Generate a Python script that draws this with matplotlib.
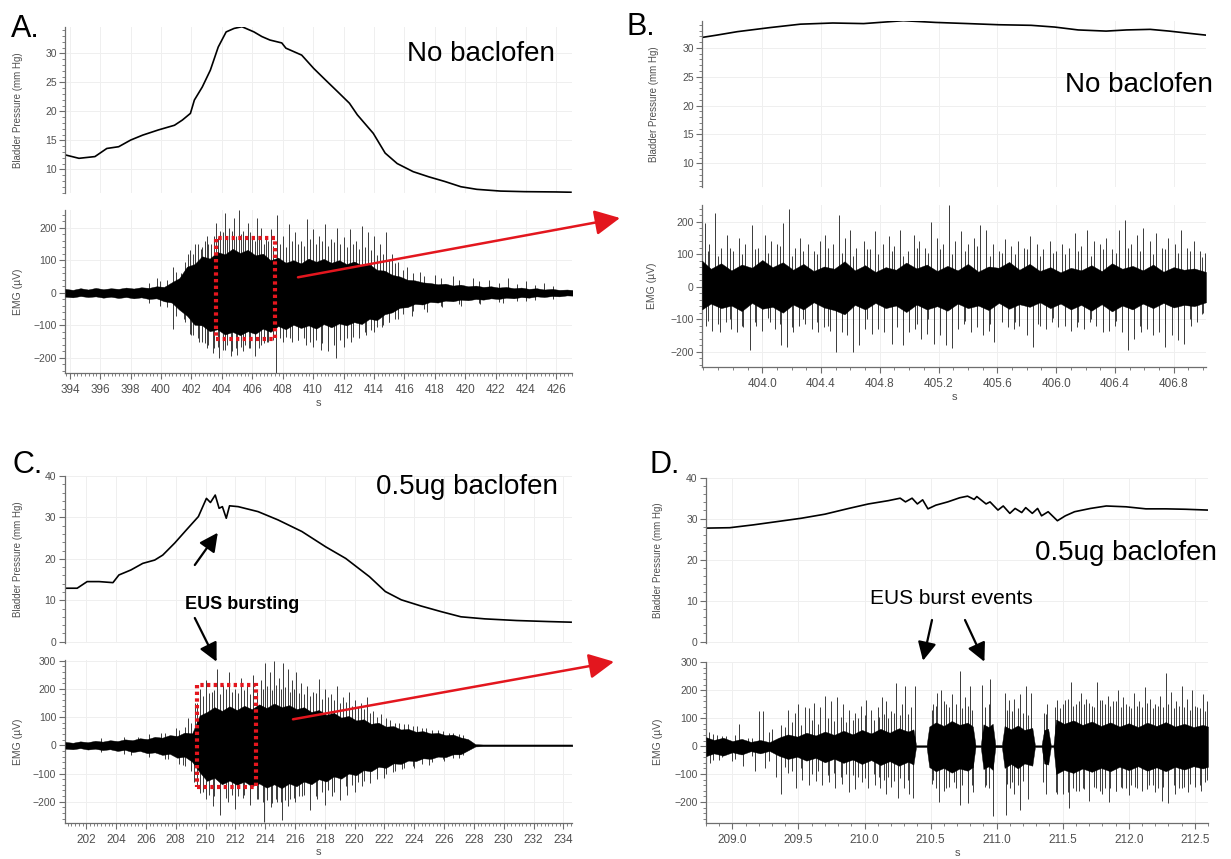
import matplotlib
matplotlib.use('Agg')
import matplotlib.pyplot as plt
from matplotlib.patches import Rectangle, FancyArrowPatch
from matplotlib.ticker import MultipleLocator, FixedLocator, FormatStrFormatter

# ---------------- data: bladder pressure (mm Hg) ----------------
A_t = [393.68, 394.60, 395.65, 396.43, 397.21, 398.00, 398.79, 399.83, 400.88, 401.40,
       401.93, 402.19, 402.71, 403.24, 403.76, 404.28, 404.80, 405.32, 406.11, 406.63,
       407.16, 407.94, 408.21, 409.25, 410.04, 410.82, 411.61, 412.39, 412.91, 413.96,
       414.74, 415.53, 416.58, 417.62, 418.67, 419.72, 420.77, 422.33, 423.90, 425.99, 426.96]
A_p = [12.5, 11.9, 12.2, 13.6, 13.9, 15.05, 15.9, 16.8, 17.6, 18.5,
       19.65, 21.95, 24.2, 27.1, 31.1, 33.7, 34.3, 34.6, 33.7, 32.9,
       32.3, 31.8, 30.9, 29.7, 27.4, 25.4, 23.4, 21.4, 19.4, 16.2,
       12.8, 11.0, 9.6, 8.7, 7.9, 7.0, 6.55, 6.25, 6.15, 6.1, 6.05]

B_t = [403.59, 403.69, 403.83, 404.05, 404.26, 404.48, 404.69, 404.96, 405.18, 405.40,
       405.61, 405.83, 405.99, 406.15, 406.34, 406.48, 406.64, 406.77, 406.91, 407.02]
B_p = [31.8, 32.2, 32.8, 33.5, 34.1, 34.3, 34.2, 34.7, 34.4, 34.2,
       34.0, 33.9, 33.6, 33.1, 32.9, 33.1, 33.2, 32.9, 32.5, 32.2]

C_t = [200.59, 201.39, 202.06, 202.86, 203.79, 204.19, 204.99, 205.79, 206.59, 207.13,
       207.93, 208.72, 209.52, 210.06, 210.33, 210.65, 210.91, 211.13, 211.39, 211.61,
       212.19, 213.52, 214.86, 216.46, 218.06, 219.40, 220.99, 222.06, 223.13, 224.46,
       225.80, 227.13, 228.73, 230.87, 233.00, 234.52]
C_p = [12.9, 12.9, 14.5, 14.5, 14.25, 16.1, 17.3, 18.9, 19.7, 20.9,
       23.8, 27.0, 30.2, 34.6, 33.6, 35.4, 32.2, 32.6, 29.8, 32.8,
       32.6, 31.4, 29.4, 26.6, 22.9, 20.1, 15.7, 12.1, 10.1, 8.6,
       7.25, 6.0, 5.5, 5.1, 4.85, 4.7]

D_t = [208.80, 208.98, 209.16, 209.34, 209.52, 209.70, 209.88, 210.03, 210.18, 210.27,
       210.31, 210.36, 210.40, 210.44, 210.48, 210.54, 210.63, 210.72, 210.78, 210.83,
       210.85, 210.92, 210.95, 211.01, 211.05, 211.10, 211.14, 211.19, 211.22, 211.27,
       211.31, 211.34, 211.39, 211.46, 211.52, 211.59, 211.71, 211.83, 211.98, 212.13,
       212.28, 212.43, 212.60]
D_p = [27.7, 27.8, 28.5, 29.3, 30.1, 31.1, 32.5, 33.6, 34.4, 35.0,
       34.1, 35.0, 33.6, 34.6, 32.4, 33.3, 34.1, 35.1, 35.5, 34.7,
       35.4, 33.6, 34.1, 32.1, 33.1, 31.3, 32.5, 31.5, 32.7, 31.3,
       32.5, 30.7, 31.7, 29.5, 30.7, 31.7, 32.5, 33.1, 32.9, 32.4,
       32.4, 32.3, 32.1]

# ---------------- data: EMG (uV) dense-core envelope ----------------
A_env_t = [393.7, 394.2, 394.7, 395.2, 395.7, 396.2, 396.7, 397.2, 397.7, 398.2, 398.7, 399.2, 399.7,
           400.2, 400.7, 401.2, 401.7, 402.2, 402.7, 403.2, 403.7, 404.2, 404.7, 405.2, 405.7, 406.2,
           406.7, 407.2, 407.7, 408.2, 408.7, 409.2, 409.7,
           410.2, 410.7, 411.2, 411.7, 412.2, 412.7, 413.2, 413.7, 414.2, 414.7, 415.2, 415.7, 416.2,
           416.7, 417.2, 417.7, 418.2, 418.7, 419.2, 419.7,
           420.2, 420.7, 421.2, 421.7, 422.2, 422.7, 423.2, 423.7, 424.2, 424.7, 425.2, 425.7, 426.2,
           426.7, 427.2]
A_env_hi = [12, 9, 14, 10, 15, 11, 14, 12, 16, 13, 17, 15, 20,
            18, 32, 45, 80, 88, 112, 105, 125, 118, 135, 122, 132, 115, 120, 100, 108, 92, 100, 90, 105,
            95, 104, 92, 100, 88, 96, 84, 88, 70, 68, 55, 50, 40, 38, 32, 30, 26, 28, 22, 25,
            20, 22, 18, 20, 16, 18, 14, 16, 12, 14, 10, 12, 9, 10,
            8]
A_env_lo = [-12, -14, -10, -13, -11, -15, -12, -16, -13, -17, -14, -19, -17,
            -26, -30, -52, -70, -98, -100, -118, -112, -128, -120, -130, -118, -126, -110, -120, -102, -112,
            -98, -108, -100,
            -110, -96, -106, -94, -100, -90, -96, -80, -84, -66, -60, -46, -44, -34, -36, -28, -30, -24, -26,
            -21,
            -23, -19, -21, -17, -19, -15, -17, -13, -15, -11, -13, -10, -11, -8,
            -9]

B_env_t = [403.59, 403.65, 403.72, 403.79, 403.86, 403.93, 404.00, 404.07, 404.14, 404.21,
           404.28, 404.35, 404.42, 404.49, 404.56, 404.63, 404.70, 404.77, 404.84, 404.91,
           404.98, 405.05, 405.12, 405.19, 405.26, 405.33, 405.40, 405.47, 405.54, 405.61,
           405.68, 405.75, 405.82, 405.89, 405.96, 406.03, 406.10, 406.17, 406.24, 406.31,
           406.38, 406.45, 406.52, 406.59, 406.66, 406.73, 406.80, 406.87, 406.94, 407.02]
B_env_hi = [80, 55, 72, 50, 68, 58, 82, 60, 75, 52,
            70, 48, 62, 55, 78, 50, 66, 45, 60, 52,
            74, 56, 68, 48, 64, 50, 70, 46, 62, 58,
            76, 52, 70, 48, 60, 44, 58, 50, 66, 48,
            72, 55, 64, 50, 68, 46, 60, 52, 56, 45]
B_env_lo = [-70, -52, -66, -58, -75, -50, -68, -62, -80, -55,
            -70, -48, -64, -72, -85, -56, -70, -50, -66, -58,
            -78, -55, -70, -60, -74, -52, -66, -58, -72, -50,
            -68, -54, -62, -48, -66, -52, -70, -56, -74, -54,
            -76, -58, -70, -52, -66, -50, -64, -56, -60, -48]

C_env_t = [200.6, 201.1, 201.6, 202.1, 202.6, 203.1, 203.6, 204.1, 204.6, 205.1, 205.6, 206.1, 206.6,
           207.1, 207.6, 208.1, 208.6, 209.1, 209.6,
           210.1, 210.6, 211.1, 211.6, 212.1, 212.6, 213.1, 213.6, 214.1, 214.6, 215.1, 215.6, 216.1,
           216.6, 217.1, 217.6, 218.1, 218.6, 219.1, 219.6,
           220.1, 220.6, 221.1, 221.6, 222.1, 222.6, 223.1, 223.6, 224.1, 224.6, 225.1, 225.6, 226.1,
           226.6, 227.1, 227.6,
           228.1,
           228.6, 229.1, 229.6, 230.1, 230.6, 231.1, 231.6, 232.1, 232.6, 233.1, 233.6, 234.1, 234.6]
C_env_hi = [12, 9, 14, 11, 16, 13, 18, 15, 21, 18, 25, 22, 30, 27, 36, 33, 45, 42, 105,
            118, 135, 122, 138, 125, 140, 128, 145, 132, 148, 135, 142, 128, 135, 118, 125, 108, 115, 98,
            104,
            88, 92, 76, 80, 66, 68, 56, 58, 48, 50, 42, 44, 36, 38, 28, 22,
            4,
            3, 3, 3, 3, 3, 3, 3, 3, 3, 3, 3, 3, 3]
C_env_lo = [-12, -14, -10, -15, -12, -17, -14, -20, -16, -24, -20, -28, -25, -34, -30, -44, -40, -58, -95,
            -126, -115, -138, -125, -140, -128, -145, -135, -150, -138, -152, -135, -145, -128, -138, -120,
            -128, -110, -118, -100,
            -106, -88, -92, -76, -80, -64, -66, -54, -56, -46, -48, -40, -42, -32, -32, -18,
            -4,
            -3, -3, -3, -3, -3, -3, -3, -3, -3, -3, -3, -3, -3]

D_env_t = [208.80, 208.86, 208.93, 209.00, 209.07, 209.14, 209.21, 209.28, 209.35, 209.42,
           209.49, 209.56, 209.63, 209.70, 209.77, 209.84, 209.91, 209.98, 210.05, 210.12,
           210.19, 210.26, 210.33, 210.37, 210.39, 210.47, 210.49, 210.54, 210.60, 210.66,
           210.72, 210.78, 210.82, 210.84, 210.88, 210.90, 210.94, 210.97, 210.99, 211.04,
           211.06, 211.11, 211.16, 211.21, 211.27, 211.29, 211.34, 211.36, 211.39, 211.41,
           211.43, 211.45, 211.51, 211.58, 211.65, 211.72, 211.79, 211.86, 211.93, 212.00,
           212.07, 212.14, 212.21, 212.28, 212.35, 212.42, 212.49, 212.56, 212.60]
D_env_hi = [32, 22, 30, 18, 26, 15, 22, 14, 30, 42,
            34, 48, 38, 52, 40, 55, 42, 58, 45, 62,
            48, 64, 52, 60, 3, 3, 70, 85, 72, 90,
            76, 84, 70, 3, 3, 78, 68, 80, 4, 4,
            72, 60, 74, 58, 65, 3, 3, 58, 62, 3,
            3, 95, 80, 92, 76, 88, 72, 85, 70, 82,
            68, 84, 72, 86, 70, 80, 68, 76, 70]
D_env_lo = [-36, -26, -34, -22, -30, -18, -26, -17, -34, -46,
            -38, -52, -42, -58, -45, -60, -48, -64, -50, -68,
            -54, -70, -56, -66, -3, -3, -75, -90, -78, -95,
            -80, -88, -75, -3, -3, -82, -72, -85, -4, -4,
            -78, -64, -80, -62, -70, -3, -3, -62, -66, -3,
            -3, -100, -85, -96, -80, -92, -78, -90, -74, -86,
            -72, -88, -76, -90, -74, -84, -72, -80, -74]

# ---------------- data: EMG tall individual spikes ----------------
A_sp_t = [399.7, 400.8, 401.3, 401.8, 402.2, 402.6, 403.0, 403.3, 403.6, 403.9, 404.2, 404.5, 404.8,
          405.1, 405.4, 405.7, 406.0, 406.3, 406.6, 406.9, 407.2, 407.6, 408.0, 408.4, 408.8, 409.2,
          409.6, 410.0, 410.4, 410.8, 411.2, 411.6, 412.0, 412.4, 412.8, 413.2, 413.6, 414.0, 414.4,
          414.8, 415.2, 415.6, 416.2, 417.0, 418.0, 419.2, 420.5, 421.6, 422.8, 424.0, 425.2]
A_sp_v = [45, 80, 60, 120, 150, 135, 175, 150, 215, 190, 245, 200, 230,
          255, 190, 215, 175, 230, 200, 170, 195, 240, 175, 210, 185, 160,
          225, 195, 175, 210, 165, 200, 170, 195, 160, 205, 185, 175, 150,
          185, 120, 95, 80, 65, 55, 50, 45, 40, 45, 35, 30]
A_sn_t = [400.8, 401.5, 402.0, 402.5, 403.0, 403.4, 403.8, 404.2, 404.6, 405.0, 405.4, 405.8, 406.2,
          406.6, 407.0, 407.55, 408.0, 408.5, 409.0, 409.5, 410.0, 410.5, 411.0, 411.5, 412.0, 412.5,
          413.0, 413.5, 414.0, 414.5, 415.0, 415.6, 416.5, 417.5, 418.5, 419.7, 421.0, 422.5, 424.0]
A_sn_v = [-110, -80, -130, -150, -170, -185, -200, -175, -195, -190, -180, -170, -195,
          -160, -150, -245, -150, -140, -145, -160, -165, -175, -180, -200, -165, -150,
          -140, -130, -120, -105, -90, -80, -70, -60, -45, -40, -35, -30, -25]

B_sp_t = [403.61, 403.64, 403.68, 403.72, 403.76, 403.80, 403.84, 403.88, 403.93, 403.97,
          404.02, 404.06, 404.10, 404.14, 404.18, 404.22, 404.26, 404.31, 404.35, 404.39,
          404.43, 404.48, 404.52, 404.56, 404.60, 404.64, 404.69, 404.73, 404.77, 404.82,
          404.86, 404.90, 404.94, 404.99, 405.03, 405.07, 405.11, 405.15, 405.19, 405.23,
          405.27, 405.31, 405.35, 405.40, 405.44, 405.48, 405.52, 405.57, 405.61, 405.65,
          405.69, 405.74, 405.78, 405.82, 405.87, 405.91, 405.96, 406.00, 406.04, 406.09,
          406.13, 406.17, 406.21, 406.26, 406.30, 406.34, 406.38, 406.43, 406.47, 406.51,
          406.55, 406.59, 406.64, 406.68, 406.72, 406.76, 406.81, 406.85, 406.89, 406.94,
          406.98, 407.01]
B_sp_v = [195, 130, 225, 120, 160, 110, 150, 130, 190, 120,
          160, 140, 130, 195, 240, 120, 150, 130, 110, 140,
          160, 130, 220, 150, 175, 120, 140, 115, 170, 130,
          155, 125, 175, 110, 160, 140, 120, 200, 150, 130,
          250, 140, 170, 130, 150, 190, 175, 130, 110, 145,
          125, 140, 120, 155, 130, 115, 140, 110, 130, 120,
          165, 125, 175, 140, 130, 150, 115, 175, 205, 130,
          160, 180, 140, 165, 120, 150, 130, 175, 120, 140,
          110, 105]
B_sn_t = [403.62, 403.66, 403.71, 403.75, 403.79, 403.83, 403.87, 403.92, 403.96, 404.00,
          404.05, 404.09, 404.13, 404.17, 404.21, 404.25, 404.29, 404.34, 404.38, 404.42,
          404.46, 404.50, 404.54, 404.58, 404.62, 404.66, 404.70, 404.75, 404.79, 404.83,
          404.88, 404.92, 404.96, 405.00, 405.04, 405.08, 405.12, 405.17, 405.21, 405.25,
          405.29, 405.33, 405.37, 405.42, 405.46, 405.50, 405.54, 405.58, 405.63, 405.67,
          405.71, 405.75, 405.80, 405.84, 405.88, 405.93, 405.97, 406.01, 406.06, 406.10,
          406.14, 406.19, 406.23, 406.27, 406.32, 406.36, 406.40, 406.45, 406.49, 406.53,
          406.58, 406.62, 406.66, 406.70, 406.74, 406.79, 406.83, 406.87, 406.92, 406.96,
          407.00]
B_sn_v = [-120, -135, -140, -110, -130, -140, -125, -195, -120, -135,
          -110, -130, -180, -185, -140, -120, -115, -130, -140, -125,
          -135, -200, -140, -150, -200, -180, -130, -145, -130, -140,
          -175, -125, -180, -140, -130, -160, -145, -175, -150, -180,
          -190, -130, -115, -140, -125, -150, -135, -170, -110, -125,
          -130, -120, -150, -185, -115, -130, -110, -125, -120, -135,
          -125, -130, -110, -120, -140, -135, -120, -140, -195, -160,
          -140, -130, -150, -140, -185, -150, -165, -175, -120, -110,
          -80]

C_sp_t = [205.5, 207.0, 208.0, 208.8, 209.3, 209.6, 210.0, 210.4, 210.8, 211.2, 211.6, 212.0,
          212.4, 212.8, 213.2, 213.7, 214.0, 214.3, 214.6, 214.9, 215.2, 215.5, 215.8, 216.1,
          216.4, 216.8, 217.2, 217.6, 218.0, 218.4, 218.8, 219.2, 219.6, 220.0, 220.4, 220.8,
          221.2, 221.8, 222.4, 223.0, 223.6, 224.2, 224.8, 225.6, 226.3, 227.0]
C_sp_v = [30, 45, 60, 95, 150, 200, 230, 190, 270, 215, 260, 200,
          240, 210, 250, 230, 290, 260, 300, 240, 290, 270, 230, 260,
          220, 210, 190, 235, 200, 180, 210, 170, 190, 160, 150, 170,
          120, 110, 90, 80, 75, 70, 60, 55, 45, 40]
C_sn_t = [205.0, 207.5, 208.5, 209.2, 209.6, 210.0, 210.5, 211.0, 211.5, 212.0, 212.5, 213.0,
          213.5, 213.9, 214.4, 214.8, 215.1, 215.5, 216.0, 216.5, 217.0, 217.5, 218.0, 218.5,
          219.0, 219.5, 220.0, 220.5, 221.0, 221.5, 222.0, 222.6, 223.2, 224.0, 225.0, 226.0, 227.0]
C_sn_v = [-35, -50, -70, -130, -170, -190, -215, -245, -200, -225, -185, -210,
          -190, -270, -220, -200, -265, -215, -200, -180, -230, -190, -210, -180,
          -195, -175, -165, -145, -135, -120, -115, -95, -85, -80, -70, -55, -45]

D_sp_t = [208.82, 208.88, 208.95, 209.05, 209.12, 209.20, 209.23, 209.30, 209.37, 209.42,
          209.47, 209.50, 209.55, 209.58, 209.62, 209.66, 209.70, 209.75, 209.79, 209.84,
          209.88, 209.93, 209.97, 210.01, 210.05, 210.10, 210.13, 210.16, 210.20, 210.24,
          210.28, 210.31, 210.35, 210.38, 210.52, 210.55, 210.58, 210.62, 210.66, 210.72,
          210.76, 210.80, 210.89, 210.95, 211.06, 211.09, 211.13, 211.18, 211.22, 211.26,
          211.36, 211.38, 211.44, 211.48, 211.52, 211.56, 211.60, 211.64, 211.68, 211.72,
          211.76, 211.80, 211.84, 211.88, 211.92, 211.96, 212.00, 212.04, 212.08, 212.12,
          212.16, 212.20, 212.24, 212.28, 212.32, 212.36, 212.40, 212.44, 212.48, 212.52,
          212.56, 212.59]
D_sp_v = [50, 40, 35, 80, 30, 125, 125, 60, 75, 130,
          120, 150, 140, 135, 155, 140, 180, 160, 175, 150,
          130, 120, 145, 165, 130, 140, 175, 160, 125, 225,
          150, 215, 140, 215, 150, 190, 200, 150, 185, 270,
          175, 215, 220, 240, 190, 165, 170, 185, 215, 190,
          120, 150, 140, 135, 165, 230, 150, 190, 170, 145,
          230, 165, 180, 160, 200, 175, 145, 190, 160, 210,
          170, 150, 180, 260, 195, 160, 215, 170, 200, 140,
          185, 160]
D_sn_t = [208.83, 208.90, 209.00, 209.08, 209.17, 209.25, 209.33, 209.37, 209.42, 209.48,
          209.53, 209.58, 209.63, 209.68, 209.73, 209.78, 209.83, 209.88, 209.93, 209.98,
          210.03, 210.08, 210.12, 210.16, 210.20, 210.25, 210.30, 210.34, 210.37, 210.52,
          210.56, 210.62, 210.68, 210.72, 210.78, 210.82, 210.92, 210.97, 211.07, 211.10,
          211.13, 211.18, 211.24, 211.35, 211.37, 211.45, 211.50, 211.55, 211.60, 211.65,
          211.70, 211.75, 211.80, 211.85, 211.90, 211.95, 212.00, 212.05, 212.10, 212.15,
          212.20, 212.25, 212.30, 212.35, 212.40, 212.45, 212.50, 212.55, 212.59]
D_sn_v = [-60, -50, -55, -70, -90, -80, -110, -170, -95, -150,
          -120, -140, -125, -140, -130, -150, -135, -165, -155, -130,
          -150, -140, -150, -170, -145, -185, -150, -170, -185, -120,
          -200, -150, -130, -210, -205, -165, -140, -250, -245, -150,
          -170, -230, -190, -130, -170, -165, -170, -220, -160, -150,
          -195, -150, -170, -200, -160, -150, -175, -145, -160, -140,
          -165, -195, -205, -170, -150, -165, -140, -160, -120]

# ---------------- data: EMG medium (bipolar) spikes that fray the core ----------------
A_mid_t = [399.2, 399.9, 400.4, 401.0, 401.6, 401.9, 402.1, 402.4, 402.7, 402.9,
           403.1, 403.45, 403.75, 404.05, 404.35, 404.65, 404.95, 405.25, 405.55, 405.85,
           406.15, 406.45, 406.75, 407.05, 407.35, 407.8, 408.2, 408.6, 409.0, 409.4,
           409.8, 410.2, 410.6, 411.0, 411.4, 411.8, 412.2, 412.6, 413.0, 413.4,
           413.8, 414.2, 414.6, 415.0, 415.4, 415.9, 416.6, 417.3, 418.4, 419.6,
           420.9, 422.2, 423.4, 424.6, 425.8]
A_mid_up = [30, 35, 40, 65, 95, 130, 120, 150, 140, 160,
            150, 175, 170, 185, 165, 190, 175, 180, 165, 185,
            160, 175, 150, 160, 145, 150, 140, 160, 150, 145,
            165, 150, 160, 145, 155, 150, 140, 150, 135, 140,
            130, 115, 120, 100, 90, 70, 60, 50, 45, 40,
            35, 30, 28, 25, 20]
A_mid_dn = [-30, -40, -45, -70, -90, -125, -130, -140, -150, -155,
            -160, -170, -165, -175, -160, -180, -170, -165, -160, -170,
            -160, -170, -155, -150, -145, -140, -135, -150, -145, -140,
            -150, -145, -155, -150, -160, -145, -140, -135, -125, -120,
            -115, -105, -100, -90, -80, -65, -55, -50, -40, -35,
            -30, -28, -25, -22, -18]

B_mid_t = [403.63, 403.70, 403.78, 403.86, 403.95, 404.04, 404.12, 404.20, 404.28, 404.37,
           404.45, 404.54, 404.62, 404.71, 404.79, 404.88, 404.96, 405.05, 405.13, 405.21,
           405.29, 405.38, 405.46, 405.55, 405.63, 405.72, 405.80, 405.89, 405.98, 406.06,
           406.15, 406.24, 406.32, 406.41, 406.49, 406.57, 406.66, 406.74, 406.83, 406.91,
           406.99]
B_mid_up = [110, 95, 120, 100, 115, 105, 125, 95, 110, 100,
            120, 105, 95, 115, 100, 110, 95, 120, 105, 115,
            100, 110, 125, 95, 105, 100, 115, 95, 105, 100,
            110, 95, 115, 105, 120, 110, 100, 115, 105, 110,
            90]
B_mid_dn = [-105, -115, -100, -120, -110, -95, -115, -125, -100, -110,
            -120, -105, -115, -100, -110, -125, -105, -115, -100, -120,
            -110, -105, -95, -115, -105, -110, -100, -120, -95, -105,
            -110, -100, -115, -105, -110, -120, -105, -115, -110, -100,
            -85]

C_mid_t = [203.0, 204.5, 206.2, 207.3, 208.2, 208.6, 209.0, 209.45, 209.8, 210.2,
           210.6, 211.0, 211.4, 211.8, 212.2, 212.6, 213.0, 213.45, 213.85, 214.15,
           214.45, 214.75, 215.05, 215.35, 215.65, 215.95, 216.25, 216.6, 217.0, 217.4,
           217.8, 218.2, 218.6, 219.0, 219.4, 219.8, 220.2, 220.6, 221.0, 221.5,
           222.1, 222.7, 223.3, 223.9, 224.5, 225.2, 225.9, 226.6, 227.3]
C_mid_up = [25, 30, 40, 45, 55, 65, 80, 150, 175, 185,
            195, 180, 200, 190, 185, 195, 180, 190, 200, 210,
            195, 215, 200, 205, 190, 200, 185, 180, 175, 185,
            165, 170, 160, 150, 155, 140, 135, 130, 115, 100,
            95, 80, 75, 70, 60, 55, 50, 42, 35]
C_mid_dn = [-25, -30, -40, -50, -65, -75, -90, -140, -165, -175,
            -180, -170, -185, -175, -180, -175, -185, -190, -200, -195,
            -205, -190, -200, -195, -190, -185, -180, -175, -170, -180,
            -165, -160, -165, -150, -145, -140, -130, -125, -115, -110,
            -100, -90, -80, -75, -65, -60, -50, -45, -35]

D_mid_t = [208.85, 208.92, 209.02, 209.15, 209.28, 209.40, 209.45, 209.52, 209.60, 209.65,
           209.72, 209.77, 209.82, 209.86, 209.91, 209.95, 210.00, 210.07, 210.11, 210.15,
           210.18, 210.22, 210.27, 210.33, 210.51, 210.54, 210.60, 210.64, 210.69, 210.74,
           210.78, 210.81, 210.91, 210.94, 211.08, 211.12, 211.16, 211.20, 211.24, 211.37,
           211.46, 211.50, 211.54, 211.58, 211.62, 211.66, 211.70, 211.74, 211.78, 211.82,
           211.86, 211.90, 211.94, 211.98, 212.02, 212.06, 212.10, 212.14, 212.18, 212.22,
           212.26, 212.30, 212.34, 212.38, 212.42, 212.46, 212.50, 212.54, 212.58]
D_mid_up = [45, 35, 40, 30, 50, 70, 85, 75, 95, 80,
            100, 90, 105, 85, 95, 100, 110, 95, 105, 115,
            100, 120, 110, 115, 130, 145, 160, 140, 150, 135,
            145, 130, 140, 150, 130, 125, 135, 120, 110, 115,
            165, 150, 170, 145, 160, 150, 155, 140, 165, 150,
            145, 160, 140, 150, 135, 145, 140, 155, 135, 145,
            140, 150, 135, 145, 140, 130, 145, 135, 125]
D_mid_dn = [-50, -40, -45, -35, -55, -75, -90, -80, -100, -90,
            -105, -95, -110, -100, -105, -110, -115, -100, -110, -120,
            -110, -125, -115, -120, -135, -150, -160, -145, -150, -140,
            -150, -140, -145, -150, -135, -130, -140, -125, -115, -120,
            -170, -155, -165, -150, -160, -155, -150, -145, -160, -150,
            -150, -160, -145, -150, -140, -150, -145, -155, -140, -150,
            -145, -150, -140, -150, -145, -135, -145, -140, -130]

# ---------------- tick labels ----------------
A_xticks = [394, 396, 398, 400, 402, 404, 406, 408, 410, 412, 414, 416, 418, 420, 422, 424, 426]
B_xticks = [404.0, 404.4, 404.8, 405.2, 405.6, 406.0, 406.4, 406.8]
C_xticks = [202, 204, 206, 208, 210, 212, 214, 216, 218, 220, 222, 224, 226, 228, 230, 232, 234]
D_xticks = [209.0, 209.5, 210.0, 210.5, 211.0, 211.5, 212.0, 212.5]

# ---------------- figure ----------------
plt.rcParams['font.family'] = ['Liberation Sans Narrow', 'Liberation Sans', 'DejaVu Sans']
W, H = 1231, 859
fig = plt.figure(figsize=(W / 100, H / 100), dpi=100)
fig.patch.set_facecolor('white')

GRAY = '#6e6e6e'
LBL = '#505050'
RED = '#e3161e'
SPK = '#3a3a3a'
MAIN = ['Liberation Sans', 'DejaVu Sans']


def fx(px):
    return px / W


def fy(py):
    return 1 - py / H


def add_ax(x0, y0, x1, y1):
    return fig.add_axes([x0 / W, 1 - y1 / H, (x1 - x0) / W, (y1 - y0) / H])


def base_style(ax):
    for s in ['top', 'right']:
        ax.spines[s].set_visible(False)
    for s in ['left', 'bottom']:
        ax.spines[s].set_color(GRAY)
        ax.spines[s].set_linewidth(0.9)
    ax.tick_params(which='major', length=4, width=0.8, color=GRAY, labelcolor=LBL, labelsize=8, pad=2)
    ax.tick_params(which='minor', length=2, width=0.6, color=GRAY)
    ax.grid(True, which='major', color='#efefef', lw=0.7)
    ax.set_axisbelow(True)


def pressure_panel(box, t, p, xlim, ylim, xticks, ymaj, ymin):
    ax = add_ax(*box)
    base_style(ax)
    ax.spines['bottom'].set_visible(False)
    ax.plot(t, p, color='black', lw=1.2)
    ax.set_xlim(xlim)
    ax.set_ylim(ylim)
    ax.xaxis.set_major_locator(FixedLocator(xticks))
    ax.tick_params(axis='x', which='both', bottom=False, labelbottom=False)
    ax.yaxis.set_major_locator(MultipleLocator(ymaj))
    ax.yaxis.set_minor_locator(MultipleLocator(ymin))
    ax.tick_params(axis='y', labelsize=7.5)
    return ax


def emg_panel(box, env, tall, mid, xlim, ylim, xticks, xminor, fmt):
    et, ehi, elo = env
    spt, spv, snt, snv = tall
    mt, mup, mdn = mid
    ax = add_ax(*box)
    base_style(ax)
    ax.vlines(mt, mdn, mup, color=SPK, lw=0.7, zorder=2)
    ax.vlines(spt, 0, spv, color=SPK, lw=0.7, zorder=2)
    ax.vlines(snt, snv, 0, color=SPK, lw=0.7, zorder=2)
    ax.fill_between(et, elo, ehi, color='black', lw=0.3, zorder=3)
    ax.set_xlim(xlim)
    ax.set_ylim(ylim)
    ax.xaxis.set_major_locator(FixedLocator(xticks))
    ax.xaxis.set_minor_locator(MultipleLocator(xminor))
    ax.xaxis.set_major_formatter(FormatStrFormatter(fmt))
    ax.yaxis.set_major_locator(MultipleLocator(100))
    ax.yaxis.set_minor_locator(MultipleLocator(20))
    ax.tick_params(axis='x', labelsize=8.5, pad=4)
    ax.tick_params(axis='y', labelsize=7.5)
    return ax


# Panel A
pressure_panel((65, 26.7, 572, 192.7), A_t, A_p, (393.68, 427.03), (5.97, 34.6), A_xticks, 5, 1)
eA = emg_panel((65, 210, 572, 373.3), (A_env_t, A_env_hi, A_env_lo), (A_sp_t, A_sp_v, A_sn_t, A_sn_v),
               (A_mid_t, A_mid_up, A_mid_dn), (393.68, 427.03), (-247, 254), A_xticks, 0.25, '%d')
# Panel B
pressure_panel((702, 20.7, 1206, 187.3), B_t, B_p, (403.59, 407.02), (5.85, 34.7), B_xticks, 5, 1)
emg_panel((702, 205, 1206, 366.7), (B_env_t, B_env_hi, B_env_lo), (B_sp_t, B_sp_v, B_sn_t, B_sn_v),
          (B_mid_t, B_mid_up, B_mid_dn), (403.59, 407.02), (-246, 251), B_xticks, 0.1, '%.1f')
# Panel C
pressure_panel((64.5, 476, 572, 643.3), C_t, C_p, (200.54, 234.58), (-0.4, 40), C_xticks, 10, 2)
eC = emg_panel((64.5, 660, 572, 822.7), (C_env_t, C_env_hi, C_env_lo), (C_sp_t, C_sp_v, C_sn_t, C_sn_v),
               (C_mid_t, C_mid_up, C_mid_dn), (200.54, 234.58), (-274, 302), C_xticks, 0.25, '%d')
# Panel D
pressure_panel((706, 477.7, 1208, 643.3), D_t, D_p, (208.80, 212.60), (-0.4, 40), D_xticks, 10, 2)
emg_panel((706, 661.7, 1208, 822.7), (D_env_t, D_env_hi, D_env_lo), (D_sp_t, D_sp_v, D_sn_t, D_sn_v),
          (D_mid_t, D_mid_up, D_mid_dn), (208.80, 212.60), (-274, 302), D_xticks, 0.1, '%.1f')

# dotted red zoom boxes
eA.add_patch(Rectangle((403.6, -142), 407.47 - 403.6, 169 + 142, fill=False, edgecolor=RED,
                       lw=3, linestyle=(0, (0.8, 0.8)), zorder=6))
eC.add_patch(Rectangle((209.44, -149), 213.4 - 209.44, 215 + 149, fill=False, edgecolor=RED,
                       lw=3, linestyle=(0, (0.8, 0.8)), zorder=6))

# axis labels
for (xc, y0, y1) in [(18, 26.7, 192.7), (654, 20.7, 187.3), (18, 476, 643.3), (658, 477.7, 643.3)]:
    fig.text(fx(xc), fy((y0 + y1) / 2), 'Bladder Pressure (mm Hg)', rotation=90, ha='center', va='center',
             fontsize=7, color=LBL, family=MAIN)
for (xc, y0, y1) in [(18, 210, 373.3), (652, 205, 366.7), (18, 660, 822.7), (658, 661.7, 822.7)]:
    fig.text(fx(xc), fy((y0 + y1) / 2), 'EMG (\u00b5V)', rotation=90, ha='center', va='center',
             fontsize=7.5, color=LBL, family=MAIN)
for (xc, yc) in [(318, 403), (954, 397), (318, 852), (957, 852.7)]:
    fig.text(fx(xc), fy(yc), 's', ha='center', va='center', fontsize=8, color=LBL, family=MAIN)

# panel letters and annotations
fig.text(fx(11), fy(37), 'A.', fontsize=22, family=MAIN, va='baseline')
fig.text(fx(627), fy(35), 'B.', fontsize=22, family=MAIN, va='baseline')
fig.text(fx(12), fy(473), 'C.', fontsize=22, family=MAIN, va='baseline')
fig.text(fx(649), fy(473), 'D.', fontsize=22, family=MAIN, va='baseline')

fig.text(fx(407), fy(60.7), 'No baclofen', fontsize=20, family=MAIN, va='baseline')
fig.text(fx(1065), fy(91.7), 'No baclofen', fontsize=20, family=MAIN, va='baseline')
fig.text(fx(375.6), fy(494.3), '0.5ug baclofen', fontsize=20, family=MAIN, va='baseline')
fig.text(fx(1035), fy(560), '0.5ug baclofen', fontsize=20, family=MAIN, va='baseline')
fig.text(fx(185), fy(609), 'EUS bursting', fontsize=13, fontweight='bold', family=MAIN, va='baseline')
fig.text(fx(870), fy(604), 'EUS burst events', fontsize=15, family=MAIN, va='baseline')


def fig_arrow(p0, p1, color, lw, ms):
    a = FancyArrowPatch((fx(p0[0]), fy(p0[1])), (fx(p1[0]), fy(p1[1])), transform=fig.transFigure,
                        arrowstyle='-|>,head_length=0.7,head_width=0.35', mutation_scale=ms,
                        color=color, lw=lw, shrinkA=0, shrinkB=0, zorder=10)
    fig.add_artist(a)


fig_arrow((298, 277.3), (620, 218), RED, 1.8, 22)
fig_arrow((293, 719.3), (614, 661.7), RED, 1.8, 22)
fig_arrow((194.8, 565), (217.8, 532.7), 'black', 1.6, 16)
fig_arrow((194.8, 618), (216.6, 661.7), 'black', 1.6, 16)
fig_arrow((932, 620), (923, 660.7), 'black', 1.6, 16)
fig_arrow((965, 620), (984.4, 661.7), 'black', 1.6, 16)

fig.savefig('out.png', dpi=100, facecolor='white')
